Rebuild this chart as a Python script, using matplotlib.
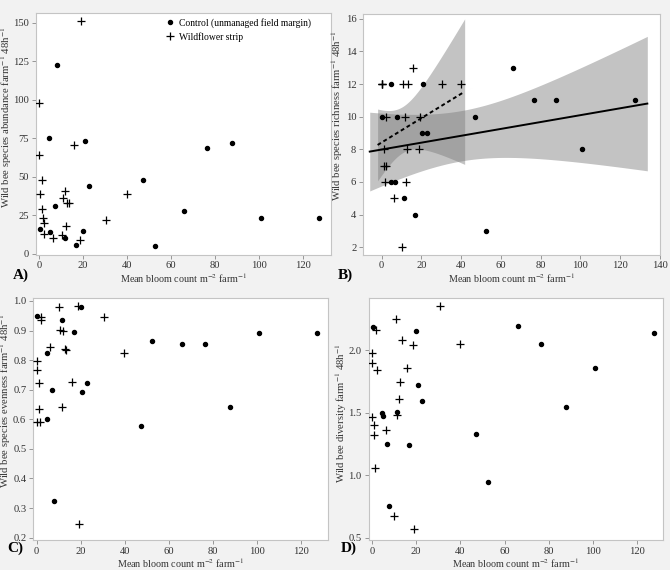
import numpy as np
import matplotlib.pyplot as plt

plt.rcParams['font.family'] = ['Liberation Serif', 'DejaVu Serif']
plt.rcParams['mathtext.fontset'] = 'stix'

# mean bloom count per farm (x), control margins and wildflower strips
ctrl_bloom = [0.4, 4.5, 4.9, 7.0, 7.9, 11.5, 16.9, 20.1, 20.7, 22.7,
              47.2, 52.5, 66.0, 76.5, 87.7, 101.0, 127.3]
wf_bloom = [0.0, 0.1, 0.3, 1.1, 1.2, 1.6, 2.0, 2.2, 6.3, 10.2,
            10.8, 11.6, 12.1, 12.7, 13.5, 16.0, 18.6, 19.2, 30.6, 39.8]

# A) abundance
ctrl_abund = [16, 75, 14, 31, 123, 10, 6, 15, 73, 44, 48, 5, 28, 69, 72, 23, 23]
wf_abund = [98, 64, 39, 48, 29, 23, 20, 13, 10, 12, 36, 41, 18, 33, 33, 71, 9, 151, 22, 39]

# B) richness
ctrl_rich = [10, 12, 6, 6, 10, 5, 4, 9, 12, 9, 10, 3, 13, 11, 11, 8, 11]
wf_rich = [12, 12, 12, 7, 8, 6, 10, 7, 5, 2, 12, 10, 6, 8, 12, 13, 8, 10, 12, 12]

# C) evenness
ctrl_even = [0.950, 0.601, 0.823, 0.700, 0.325, 0.936, 0.895, 0.981, 0.691, 0.723,
             0.577, 0.865, 0.854, 0.854, 0.643, 0.893, 0.890]
wf_even = [0.765, 0.590, 0.797, 0.721, 0.634, 0.592, 0.947, 0.934, 0.843, 0.979,
           0.903, 0.642, 0.897, 0.839, 0.833, 0.727, 0.983, 0.247, 0.945, 0.824]

# D) diversity
ctrl_div = [2.190, 1.500, 1.476, 1.254, 0.754, 1.508, 1.243, 2.158, 1.724, 1.591,
            1.334, 0.949, 2.195, 2.051, 1.545, 1.861, 2.139]
wf_div = [1.900, 1.465, 1.980, 1.400, 1.320, 1.060, 2.160, 1.845, 1.360, 0.676,
          2.250, 1.480, 1.610, 1.745, 2.080, 1.860, 2.045, 0.567, 2.356, 2.050]

xlab = r'Mean bloom count m$^{-2}$ farm$^{-1}$'
bg = '#f2f2f2'
edge = '#c4c4c4'


def fit_band(x, y, t):
    # straight line fit with 95% confidence band of the mean
    x = np.asarray(x, float)
    y = np.asarray(y, float)
    b, a = np.polyfit(x, y, 1)
    span = x.max() - x.min()
    xs = np.linspace(x.min() - 0.05 * span, x.max() + 0.05 * span, 100)
    resid = y - (a + b * x)
    s = np.sqrt((resid ** 2).sum() / (len(x) - 2))
    se = s * np.sqrt(1 / len(x) + (xs - x.mean()) ** 2 / ((x - x.mean()) ** 2).sum())
    return xs, a + b * xs, t * se


def style(ax, ylab, lx, ly):
    ax.set_facecolor('white')
    for sp in ax.spines.values():
        sp.set_color(edge)
        sp.set_linewidth(0.8)
    ax.tick_params(direction='out', length=3, width=0.6, color='#888888',
                   labelsize=7.6, labelcolor='#333333', pad=2)
    ax.set_xlabel(xlab, fontsize=7.3, color='#333333', labelpad=0.5)
    ax.set_ylabel(ylab, fontsize=7.7, color='#333333')
    ax.yaxis.set_label_coords(lx, ly)


def points(ax, xc, yc, xw, yw):
    ax.plot(xc, yc, 'o', color='black', markersize=2.9, linestyle='none',
            label='Control (unmanaged field margin)', zorder=3)
    ax.plot(xw, yw, '+', color='black', markersize=6, mew=0.9, linestyle='none',
            label='Wildflower strip', zorder=3)


fig = plt.figure(figsize=(6.7, 5.7), dpi=100, facecolor=bg)

# A
ax = fig.add_axes([0.0537, 0.5535, 0.4403, 0.4232])
style(ax, r'Wild bee species abundance farm$^{-1}$ 48h$^{-1}$', -0.073, 0.57)
points(ax, ctrl_bloom, ctrl_abund, wf_bloom, wf_abund)
ax.set_xlim(-1.5, 132.8)
ax.set_ylim(-0.5, 156.3)
ax.set_xticks(range(0, 121, 20))
ax.set_yticks(range(0, 151, 25))
ax.legend(loc='upper left', bbox_to_anchor=(0.415, 1.01), frameon=False, fontsize=6.9,
          handlelength=1.0, handletextpad=0.4, labelspacing=0.45, borderaxespad=0.3)

# B
ax = fig.add_axes([0.5422, 0.5535, 0.4428, 0.4220])
style(ax, r'Wild bee species richness farm$^{-1}$ 48h$^{-1}$', -0.063, 0.575)
xs, yf, hw = fit_band(ctrl_bloom, ctrl_rich, 2.131)
ax.fill_between(xs, yf - hw, yf + hw, color='#7a7a7a', alpha=0.45, lw=0, zorder=1)
ax.plot(xs, yf, color='black', lw=1.4, zorder=2)
xs, yf, hw = fit_band(wf_bloom, wf_rich, 2.101)
ax.fill_between(xs, yf - hw, yf + hw, color='#7a7a7a', alpha=0.45, lw=0, zorder=1)
ax.plot(xs, yf, color='black', lw=1.4, ls=(0, (2, 1.5)), zorder=2)
points(ax, ctrl_bloom, ctrl_rich, wf_bloom, wf_rich)
ax.set_xlim(-9.2, 139.3)
ax.set_ylim(1.55, 16.3)
ax.set_xticks(range(0, 141, 20))
ax.set_yticks(range(2, 17, 2))

# C
ax = fig.add_axes([0.0497, 0.0526, 0.4403, 0.4241])
style(ax, r'Wild bee species evenness farm$^{-1}$ 48h$^{-1}$', -0.068, 0.575)
points(ax, ctrl_bloom, ctrl_even, wf_bloom, wf_even)
ax.set_xlim(-1.5, 132.5)
ax.set_ylim(0.192, 1.009)
ax.set_xticks(range(0, 121, 20))
ax.set_yticks(np.arange(0.2, 1.01, 0.1))
ax.yaxis.set_major_formatter('{x:.1f}')

# D
ax = fig.add_axes([0.5503, 0.0526, 0.4393, 0.4246])
style(ax, r'Wild bee diversity farm$^{-1}$ 48h$^{-1}$', -0.067, 0.525)
points(ax, ctrl_bloom, ctrl_div, wf_bloom, wf_div)
ax.set_xlim(-1.4, 131.6)
ax.set_ylim(0.482, 2.419)
ax.set_xticks(range(0, 121, 20))
ax.set_yticks([0.5, 1.0, 1.5, 2.0])
ax.yaxis.set_major_formatter('{x:.1f}')

for lab, x, y in [('A)', 0.019, 0.5175), ('B)', 0.5045, 0.5175),
                  ('C)', 0.0104, 0.0386), ('D)', 0.509, 0.0386)]:
    fig.text(x, y, lab, fontsize=11, fontweight='bold', va='center', ha='left')

fig.savefig('out.png', dpi=100, facecolor=bg)
